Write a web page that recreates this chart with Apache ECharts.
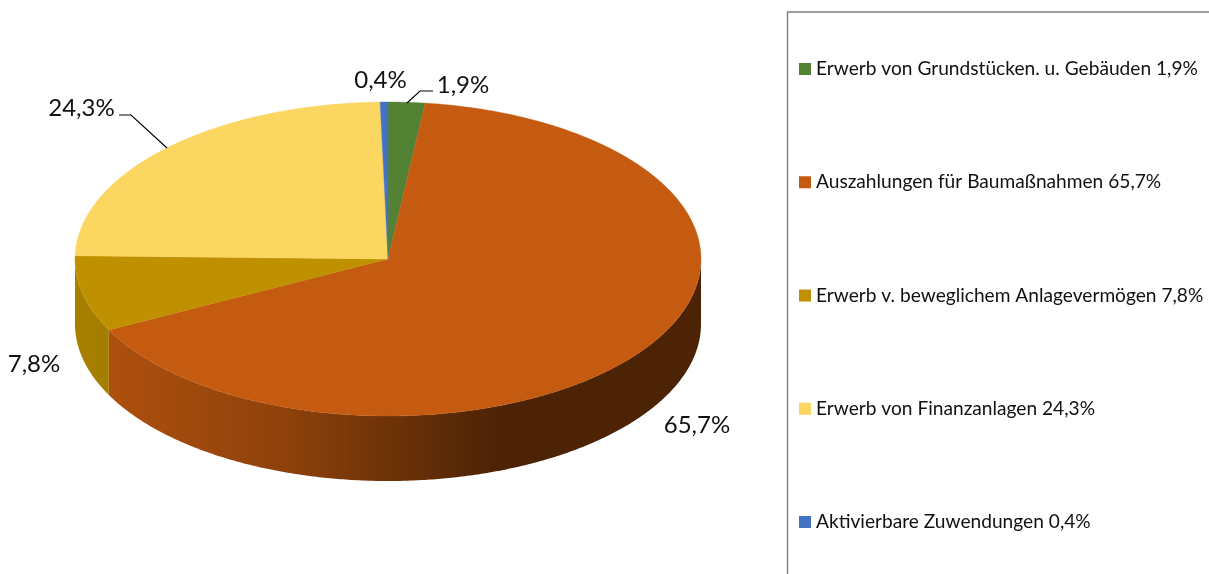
<!DOCTYPE html>
<html>
<head>
<meta charset="utf-8">
<style>html,body{margin:0;padding:0;background:#fff}#c{width:1209px;height:574px}</style>
<script src="https://cdn.jsdelivr.net/npm/echarts@6/dist/echarts.min.js"></script>
</head>
<body>
<div id="c"></div>
<script>
var categories = ['Erwerb von Grundstücken. u. Gebäuden', 'Auszahlungen für Baumaßnahmen', 'Erwerb v. beweglichem Anlagevermögen', 'Erwerb von Finanzanlagen', 'Aktivierbare Zuwendungen'];
var values = [1.9, 65.7, 7.8, 24.3, 0.4];
var colors = ['#548235', '#C55A11', '#BF9000', '#FBD661', '#4472C4'];

var CX = 388, CY = 259, RX = 313, RY = 157, DEPTH = 65;
var total = values.reduce(function (a, b) { return a + b; }, 0);
function fmt(v) { return v.toFixed(1).replace('.', ',') + '%'; }
function pt(deg, dy) {
  var r = deg * Math.PI / 180;
  return [CX + RX * Math.sin(r), CY - RY * Math.cos(r) + (dy || 0)];
}
function arc(a, b, dy) {
  var out = [], n = Math.max(2, Math.ceil(Math.abs(b - a) * 2));
  for (var i = 0; i <= n; i++) out.push(pt(a + (b - a) * i / n, dy));
  return out;
}
var wallFill = {
  1: new echarts.graphic.LinearGradient(0, 0, 1, 0, [
    { offset: 0, color: '#AE500E' }, { offset: 0.3, color: '#8E410B' },
    { offset: 0.66, color: '#4C2305' }, { offset: 1, color: '#4C2305' }]),
  2: new echarts.graphic.LinearGradient(0, 0, 1, 0, [
    { offset: 0, color: '#A88000' }, { offset: 1, color: '#A47C00' }])
};
var labelPos = [
  { x: 463, y: 85, line: [[407, 103], [420, 91], [433, 91]] },
  { x: 697, y: 425 },
  { x: 34, y: 364 },
  { x: 81.5, y: 108, line: [[167, 148], [131, 115], [119, 115]] },
  { x: 380.5, y: 80 }
];

function makeRender(idx) {
  return function (params, api) {
    var pct = api.value(0);
    var before = 0;
    for (var i = 0; i < idx; i++) before += values[i];
    var a = before / total * 360, b = (before + pct) / total * 360;
    var kids = [];
    var wa = Math.max(a, 90), wb = Math.min(b, 270);
    if (wb > wa) {
      var top = arc(wa, wb, 0), bottom = arc(wa, wb, DEPTH).reverse();
      kids.push({ type: 'polygon', shape: { points: top.concat(bottom) }, style: { fill: wallFill[idx] || colors[idx] } });
    }
    kids.push({
      type: 'polygon',
      shape: { points: [[CX, CY]].concat(arc(a, b, 0)) },
      style: { fill: colors[idx], stroke: colors[idx], lineWidth: 0.4 }
    });
    var lp = labelPos[idx];
    if (lp.line) {
      kids.push({ type: 'polyline', shape: { points: lp.line }, style: { fill: 'none', stroke: '#000', lineWidth: 1.1 } });
    }
    kids.push({
      type: 'text', z2: 10,
      style: { x: lp.x, y: lp.y, text: fmt(pct), fill: '#111', font: '24px Lato, sans-serif', align: 'center', verticalAlign: 'middle' }
    });
    return { type: 'group', children: kids };
  };
}

var chart = echarts.init(document.getElementById('c'), null, { renderer: 'canvas' });
chart.setOption({
  animation: false,
  backgroundColor: '#fff',
  graphic: [{
    type: 'rect', silent: true, z: -1,
    shape: { x: 787.5, y: 12, width: 600, height: 800 },
    style: { fill: 'none', stroke: '#7F7F7F', lineWidth: 1.4 }
  }],
  legend: {
    orient: 'vertical', left: 799, top: 59, padding: 0,
    itemWidth: 12, itemHeight: 12, itemGap: 93.25,
    icon: 'rect', selectedMode: false,
    textStyle: { fontFamily: 'Lato, sans-serif', fontSize: 19.15, color: '#111', lineHeight: 20 },
    data: categories.map(function (c, i) { return { name: c + ' ' + fmt(values[i]), icon: 'rect', itemStyle: { color: colors[i] } }; })
  },
  series: categories.map(function (c, i) {
    return {
      type: 'custom', name: c + ' ' + fmt(values[i]),
      coordinateSystem: 'none', silent: true,
      itemStyle: { color: colors[i] },
      renderItem: makeRender(i),
      data: [[values[i]]]
    };
  })
});
</script>
</body>
</html>
